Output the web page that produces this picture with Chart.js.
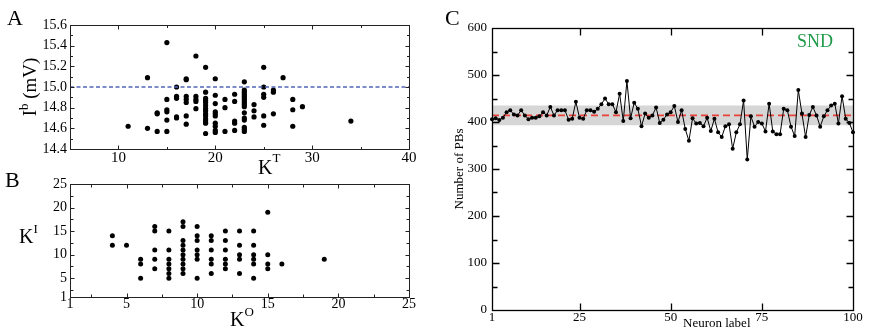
<!DOCTYPE html>
<html><head><meta charset="utf-8">
<script src="https://cdn.jsdelivr.net/npm/chart.js@4.4.1/dist/chart.umd.min.js"></script>
<style>
html,body{margin:0;padding:0;background:#fff}
#root{position:relative;width:872px;height:331px;overflow:hidden;background:#fff}
canvas{position:absolute}
.t{position:absolute;font-family:'Liberation Serif','Times New Roman',serif;line-height:1;white-space:nowrap;color:#000}
.sup{position:relative;font-size:13px}
.rot{transform:translate(-50%,-50%) rotate(-90deg)}
</style></head><body>
<div id="root">
<canvas id="ca" width="430" height="170" style="left:0;top:0"></canvas>
<canvas id="cb" width="430" height="161" style="left:0;top:170px"></canvas>
<canvas id="cc" width="442" height="331" style="left:430px;top:0"></canvas>
<div class="t" style="left:7px;top:7px;font-size:22px">A</div>
<div class="t" style="left:5px;top:169px;font-size:22px">B</div>
<div class="t" style="left:445px;top:7px;font-size:22px">C</div>
<div class="t rot" style="left:29px;top:87px;font-size:19px">I<span class="sup" style="top:-8px">b</span> (mV)</div>
<div class="t" style="left:258px;top:157px;font-size:20px">K<span class="sup" style="top:-12px">T</span></div>
<div class="t" style="left:19px;top:226px;font-size:20px">K<span class="sup" style="top:-10px">I</span></div>
<div class="t" style="left:230px;top:309px;font-size:20px">K<span class="sup" style="top:-10px">O</span></div>
<div class="t rot" style="left:458px;top:169px;font-size:13px">Number of PBs</div>
<div class="t" style="left:683px;top:316px;font-size:13px">Neuron label</div>
<div class="t" style="left:797px;top:32px;font-size:18px;color:#1f9a48">SND</div>
</div>
<script>
// ---------- Panel A: K^T vs I^b ----------
const kT = [11,
 13,13,
 14,14,14,
 15,15,15,15,15,15,
 16,16,16,16,16,
 17,17,17,17,17,17,17,
 18,18,18,18,18,
 19,19,19,19,19,19,19,19,19,19,19,19,19,19,
 20,20,20,20,20,20,20,20,20,20,
 21,21,21,
 22,22,22,22,22,
 23,23,23,23,23,23,23,23,23,23,23,23,23,23,23,23,
 24,24,24,
 25,25,25,25,25,25,
 26,26,26,
 27,
 28,28,28,
 29,
 34];
const Ib = [14.62,
 15.09,14.60,
 14.75,14.74,14.57,
 15.43,14.88,14.78,14.76,14.68,14.57,
 15.00,14.91,14.89,14.71,14.70,
 15.08,15.07,14.91,14.88,14.85,14.72,14.64,
 15.30,14.91,14.88,14.86,14.79,
 15.19,14.95,14.89,14.87,14.85,14.82,14.79,14.77,14.74,14.72,14.69,14.67,14.65,14.55,
 15.08,14.92,14.84,14.76,14.74,14.72,14.65,14.62,14.58,14.56,
 14.88,14.80,14.57,
 14.93,14.86,14.67,14.65,14.58,
 15.05,14.97,14.95,14.93,14.91,14.89,14.87,14.85,14.83,14.81,14.75,14.70,14.68,14.61,14.59,14.57,
 14.83,14.77,14.71,
 15.19,15.00,14.93,14.90,14.72,14.63,
 14.97,14.95,14.74,
 15.09,
 14.88,14.78,14.62,
 14.81,
 14.67];
const ibRef = 15.0;
const aXTicks = [10,20,30,40];
const aYTicks = [14.4,14.6,14.8,15.0,15.2,15.4,15.6];

// ---------- Panel B: K^O vs K^I ----------
const kO = [4,4, 5, 6,6,6, 7,7,7,7,7, 8,8,8,8,8,8,8,
 9,9,9,9,9,9,9,9,9,9, 10,10,10,10,10,10,10, 11,11,11,11,11,11,
 12,12,12,12,12,12, 13,13,13,13,13, 14,14,14,14,14,14, 15,15,15,15, 16, 19];
const kI = [14,12, 12, 9,8,5, 16,15,11,9,7, 15,11,9,8,7,6,5,
 17,16,13,12,11,10,9,8,7,6, 16,14,13,11,10,9,5, 14,13,11,9,8,6,
 15,13,11,9,8,7, 15,12,10,9,6, 15,12,10,9,8,5, 19,10,8,7, 8, 9];
const bTicks = [1,5,10,15,20,25];

// ---------- Panel C: number of PBs per neuron ----------
const pbCounts = [406,408,404,409,421,425,416,414,425,414,
 406,409,409,412,421,414,432,414,425,425,
 425,405,407,443,409,407,425,425,422,428,
 438,450,438,438,421,460,402,487,408,441,
 428,391,418,409,414,431,398,405,416,421,
 434,400,425,385,360,408,397,398,391,409,
 381,407,378,368,391,395,343,378,395,446,
 320,412,390,400,397,380,439,380,374,374,
 428,425,390,370,468,418,368,415,432,414,
 390,412,425,435,439,397,455,407,398,378];
const neurons = pbCounts.map((_, i) => i + 1);
const pbMean = 414, pbBandLow = 393, pbBandHigh = 435;
const cXTicks = [1,25,50,75,100];
const cYTicks = [0,100,200,300,400,500,600];

const FONT = "'Liberation Serif','Times New Roman',serif";

function range(a, b, s) { const r = []; for (let v = a; v <= b + 1e-9; v += s) r.push(+v.toFixed(4)); return r; }

const framePlugin = {
  id: 'frame',
  afterDatasetsDraw(chart, args, o) {
    const { ctx, chartArea: a } = chart;
    const xs = chart.scales.x, ys = chart.scales.y;
    ctx.save();
    ctx.strokeStyle = o.color || '#111';
    ctx.lineWidth = o.lw || 1;
    const L = Math.round(a.left) + 0.5, R = Math.round(a.right) + 0.5, T = Math.round(a.top) + 0.5, B = Math.round(a.bottom) + 0.5;
    ctx.strokeRect(L, T, R - L, B - T);
    ctx.beginPath();
    const xt = (vals, len) => vals.forEach(v => { const p = Math.round(xs.getPixelForValue(v)) + 0.5; ctx.moveTo(p, B); ctx.lineTo(p, B - len); ctx.moveTo(p, T); ctx.lineTo(p, T + len); });
    const yt = (vals, len) => vals.forEach(v => { const p = Math.round(ys.getPixelForValue(v)) + 0.5; ctx.moveTo(L, p); ctx.lineTo(L + len, p); ctx.moveTo(R, p); ctx.lineTo(R - len, p); });
    xt(o.xMajor || [], o.major); xt(o.xMinor || [], o.minor);
    yt(o.yMajor || [], o.major); yt(o.yMinor || [], o.minor);
    ctx.stroke();
    ctx.restore();
  }
};

function axis(min, max, ticks, o) {
  return {
    type: 'linear', min, max,
    grid: { display: false, drawTicks: false }, border: { display: false },
    afterBuildTicks: s => { s.ticks = ticks.map(v => ({ value: v })); },
    afterFit: s => { if (o.w !== undefined) s.width = o.w; if (o.h !== undefined) s.height = o.h; },
    ticks: { color: '#000', padding: o.pad, autoSkip: false, maxRotation: 0,
      font: { family: FONT, size: o.size, lineHeight: 1 },
      callback: o.fmt || (v => String(v)) }
  };
}

const common = {
  responsive: false, animation: false, events: [],
};

// Panel A
new Chart(document.getElementById('ca'), {
  type: 'scatter',
  data: { datasets: [
    { data: kT.map((x, i) => ({ x, y: Ib[i] })), pointRadius: 2.6, pointBackgroundColor: '#000', pointBorderWidth: 0, order: 2 },
    { data: [{ x: 5, y: ibRef }, { x: 40, y: ibRef }], showLine: true, borderColor: '#5466bb', borderWidth: 1.3, borderDash: [4, 2.5], pointRadius: 0, order: 1 }
  ]},
  options: Object.assign({}, common, {
    layout: { padding: { left: 0, top: 25, right: 21, bottom: 0 } },
    scales: {
      x: axis(5, 40, aXTicks, { h: 21, pad: 2, size: 15 }),
      y: axis(14.4, 15.6, aYTicks, { w: 70, pad: 3, size: 14, fmt: v => v.toFixed(1) })
    },
    plugins: { legend: { display: false }, tooltip: { enabled: false },
      frame: { xMajor: aXTicks, xMinor: [15, 25, 35], yMajor: aYTicks, yMinor: range(14.5, 15.5, 0.2), major: 4, minor: 2.5, lw: 1, color: '#222' } }
  }),
  plugins: [framePlugin]
});

// Panel B
new Chart(document.getElementById('cb'), {
  type: 'scatter',
  data: { datasets: [
    { data: kO.map((x, i) => ({ x, y: kI[i] })), pointRadius: 2.5, pointBackgroundColor: '#000', pointBorderWidth: 0 }
  ]},
  options: Object.assign({}, common, {
    layout: { padding: { left: 0, top: 14, right: 21, bottom: 0 } },
    scales: {
      x: axis(1, 25, bTicks, { h: 34, pad: 0, size: 14 }),
      y: axis(1, 25, bTicks, { w: 70, pad: 3, size: 14 })
    },
    plugins: { legend: { display: false }, tooltip: { enabled: false },
      frame: { xMajor: [5, 10, 15, 20], xMinor: [2.5, 7.5, 12.5, 17.5, 22.5], yMajor: [5, 10, 15, 20], yMinor: [2.5, 7.5, 12.5, 17.5, 22.5], major: 4, minor: 3, lw: 1, color: '#222' } }
  }),
  plugins: [framePlugin]
});

// Panel C
new Chart(document.getElementById('cc'), {
  type: 'scatter',
  data: { datasets: [
    { data: [{ x: 1, y: pbBandHigh }, { x: 100, y: pbBandHigh }], showLine: true, fill: { value: pbBandLow }, backgroundColor: '#d6d6d6', borderWidth: 0, pointRadius: 0, order: 5 },
    { data: [{ x: 1, y: pbMean }, { x: 100, y: pbMean }], showLine: true, borderColor: '#e8423a', borderWidth: 1.8, borderDash: [7, 4], pointRadius: 0, order: 2 },
    { data: neurons.map((x, i) => ({ x, y: pbCounts[i] })), showLine: true, borderColor: '#000', borderWidth: 1, pointRadius: 2, pointBackgroundColor: '#000', pointBorderWidth: 0, clip: false, order: 1 }
  ]},
  options: Object.assign({}, common, {
    layout: { padding: { left: 0, top: 28, right: 19, bottom: 0 } },
    scales: {
      x: axis(1, 100, cXTicks, { h: 21, pad: 1, size: 13 }),
      y: axis(0, 600, cYTicks, { w: 62, pad: 5, size: 13 })
    },
    plugins: { legend: { display: false }, tooltip: { enabled: false },
      frame: { xMajor: [25, 50, 75], xMinor: [], yMajor: [100, 200, 300, 400, 500], yMinor: [50, 150, 250, 350, 450, 550], major: 7, minor: 5, lw: 1.3, color: '#000' } }
  }),
  plugins: [framePlugin]
});
</script>
</body></html>
